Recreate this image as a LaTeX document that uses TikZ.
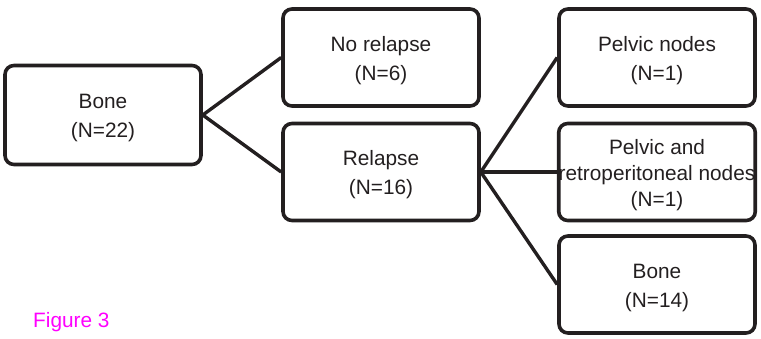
\documentclass[tikz,border=0pt]{standalone}
\usepackage{fontspec}
\setmainfont{Liberation Sans}
\definecolor{figmag}{RGB}{255,0,255}
\definecolor{ink}{RGB}{35,31,32}
\newcommand{\dn}{\rule{0pt}{21pt}}
\begin{document}
\begin{tikzpicture}[x=1pt,y=-1pt,
  box/.style={draw=ink, line width=3.6pt, rounded corners=9pt, minimum width=196pt, minimum height=97pt, align=center, inner sep=0pt, font=\fontsize{20.8}{29}\selectfont, text=ink},
  conn/.style={draw=ink, line width=3.4pt}]
\useasboundingbox (0,0) rectangle (761,338);
\node[box, minimum height=99pt] (bone) at (103,115) {\dn Bone\\(N=22)};
\node[box] (norel) at (381,57.5) {\dn No relapse\\(N=6)};
\node[box] (rel) at (381,172) {\dn Relapse\\(N=16)};
\node[box] (pelv) at (657,57.5) {\dn Pelvic nodes\\(N=1)};
\node[box, font=\fontsize{20.8}{26}\selectfont] (retro) at (657,172) {\dn Pelvic and\\retroperitoneal nodes\\(N=1)};
\node[box] (bone14) at (657,284.5) {\dn Bone\\(N=14)};
\draw[conn] (norel.west) -- (bone.east) -- (rel.west);
\draw[conn] (pelv.west) -- (rel.east) -- (bone14.west);
\draw[conn] (rel.east) -- (retro.west);
\node[anchor=base west, inner sep=0pt, text=figmag, font=\fontsize{20.8}{25}\selectfont] (fig) at (33,327) {Figure 3};
\end{tikzpicture}
\end{document}
